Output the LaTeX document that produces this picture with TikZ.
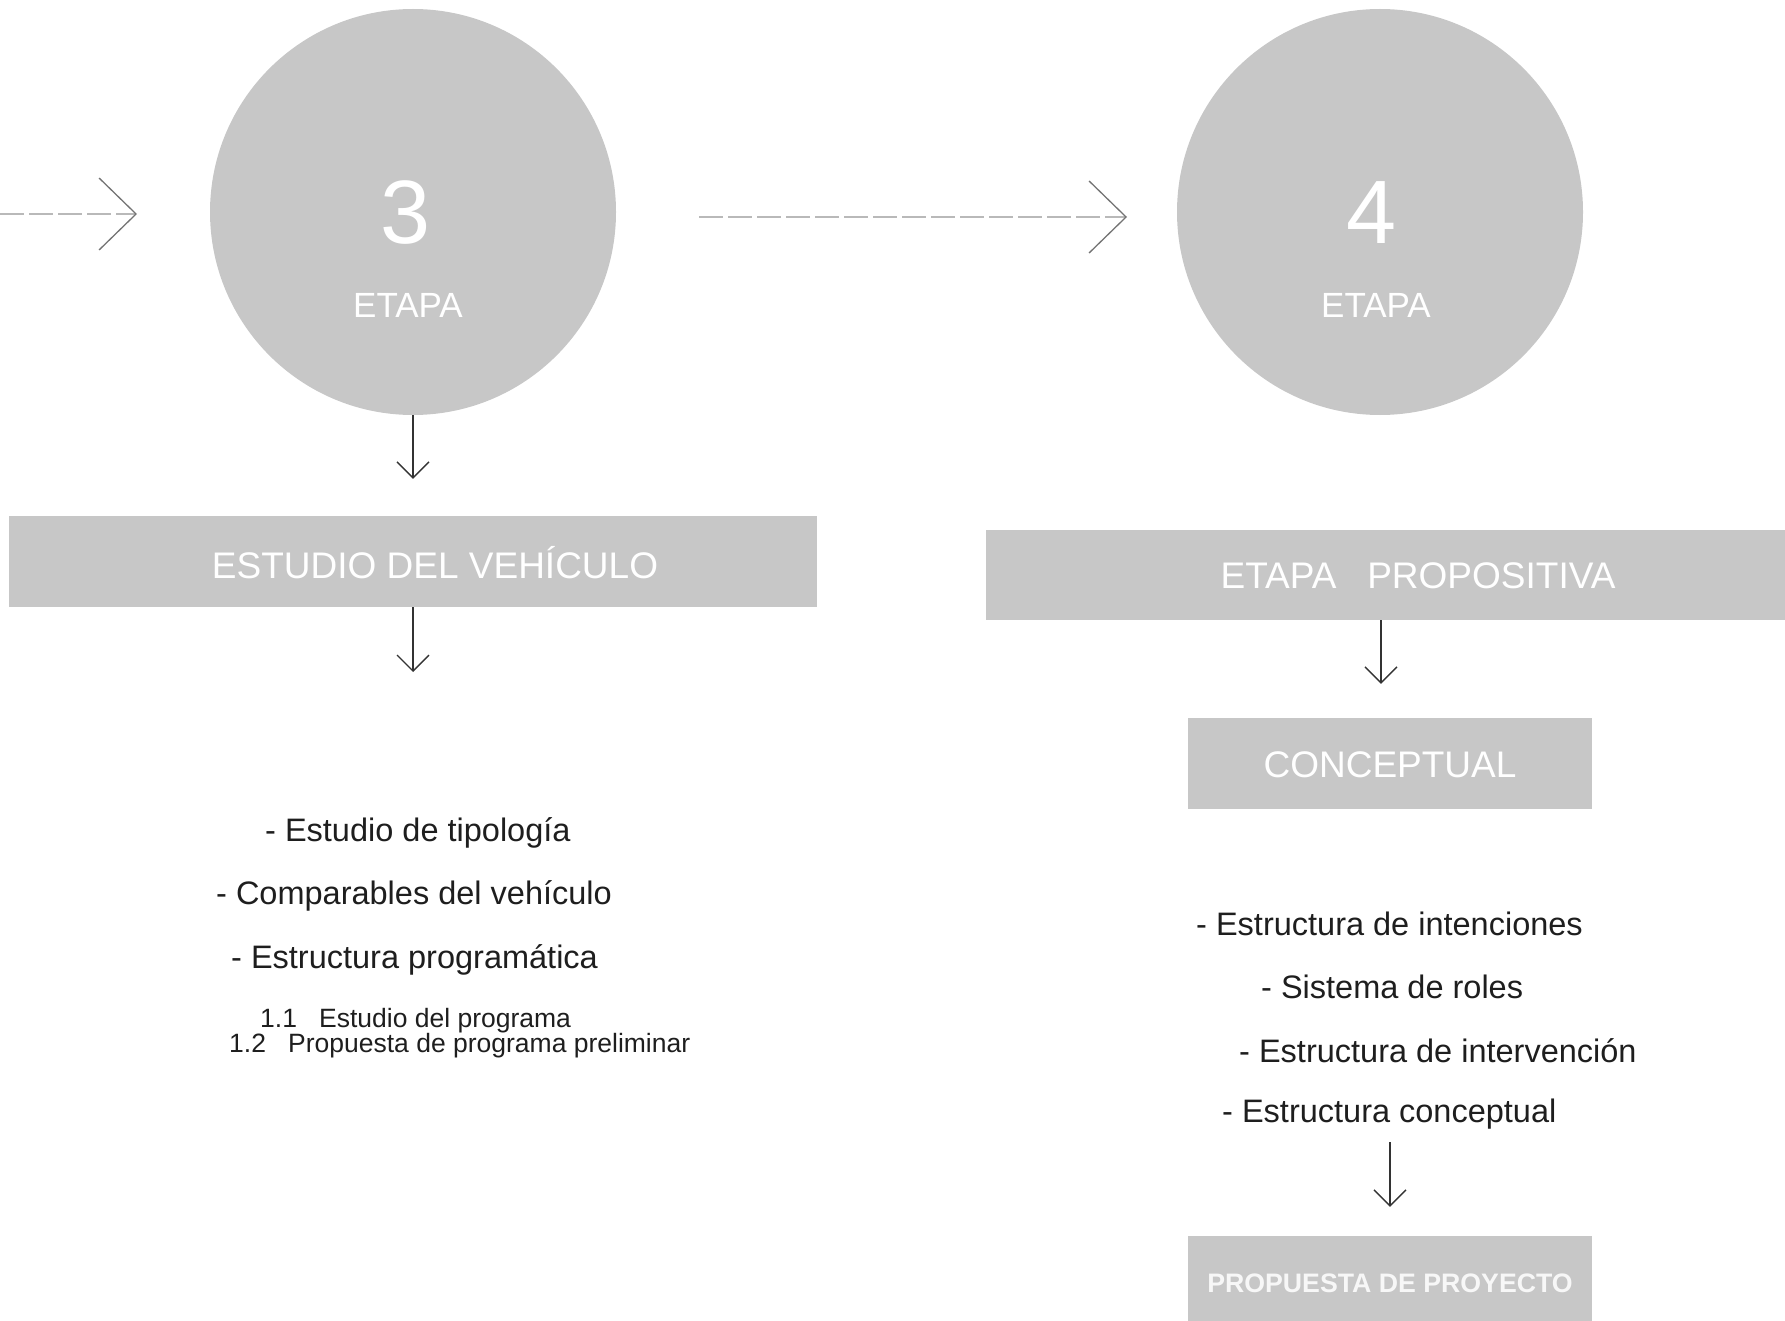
\documentclass[tikz,border=0pt]{standalone}
\usepackage{fontspec}
\setmainfont{Liberation Sans}
\usetikzlibrary{arrows.meta}
\definecolor{shade}{RGB}{199,199,199}
\definecolor{inktext}{RGB}{30,30,30}
\definecolor{dashgray}{RGB}{185,185,185}
\begin{document}
\begin{tikzpicture}[x=1pt,y=-1pt,
  stage/.style={circle, fill=shade, minimum size=406pt, inner sep=0pt},
  bar/.style={fill=shade, inner sep=0pt, text=white, font=\fontsize{37}{40}\selectfont},
  item/.style={text=inktext, inner sep=0pt, font=\fontsize{32.5}{36}\selectfont},
  subitem/.style={text=inktext, inner sep=0pt, font=\fontsize{26.5}{27}\selectfont, align=left},
  flow/.style={draw=black!80, line width=1.3pt, -{Straight Barb[length=16pt,width=32pt,line width=1.3pt]}},
  link/.style={draw=dashgray, line width=1.3pt, dash pattern=on 24pt off 5pt, -{Straight Barb[length=37pt,width=72pt,line width=1.3pt,color=black!55]}}
]
\useasboundingbox (0,0) rectangle (1785,1321);

% stage circles
\node[stage] (c3) at (413,212) {};
\node[text=white, font=\fontsize{90}{92}\selectfont] (n3) at (406,213) {3};
\node[text=white, font=\fontsize{35}{38}\selectfont] (e3) at (408,305) {ETAPA};

\node[stage] (c4) at (1380,212) {};
\node[text=white, font=\fontsize{90}{92}\selectfont] (n4) at (1372,213) {4};
\node[text=white, font=\fontsize{35}{38}\selectfont] (e4) at (1376,305) {ETAPA};

% dashed connectors
\coordinate (lstart) at (0,214);
\coordinate (lend) at (137,214);
\draw[link] (lstart) -- (lend);
\coordinate (mstart) at (699,217);
\coordinate (mend) at (1127,217);
\draw[link] (mstart) -- (mend);

% bars
\node[bar, minimum width=808pt, minimum height=91pt] (b1) at (413,561.5) {};
\node[text=white, font=\fontsize{37}{40}\selectfont] (b1t) at (435,563) {ESTUDIO DEL VEHÍCULO};

\node[bar, minimum width=800pt, minimum height=90pt] (b2) at (1386,575) {};
\node[text=white, font=\fontsize{37}{40}\selectfont] (b2t) at (1418,576) {ETAPA\ \ \ PROPOSITIVA};

\node[bar, minimum width=404pt, minimum height=91pt] (b3) at (1390,763.5) {};
\node[text=white, font=\fontsize{37}{40}\selectfont] (b3t) at (1390,765) {CONCEPTUAL};

\node[bar, minimum width=404pt, minimum height=90pt] (b4) at (1390,1281) {};
\node[text=white!97!black, font=\bfseries\fontsize{26.7}{29}\selectfont] (b4t) at (1390,1283) {PROPUESTA DE PROYECTO};

% left list
\node[item, anchor=west] (l1) at (265,833) {- Estudio de tipología};
\node[item, anchor=west] (l2) at (216,896) {- Comparables del vehículo};
\node[item, anchor=west] (l3) at (231,960) {- Estructura programática};
\node[subitem, anchor=west] (l4) at (260,1021) {1.1\ \ \ Estudio del programa};
\node[subitem, anchor=west] (l5) at (229,1046) {1.2\ \ \ Propuesta de programa preliminar};

% right list
\node[item, anchor=west] (r1) at (1196,924) {- Estructura de intenciones};
\node[item, anchor=west] (r2) at (1261,987) {- Sistema de roles};
\node[item, anchor=west] (r3) at (1239,1051) {- Estructura de intervención};
\node[item, anchor=west] (r4) at (1222,1114) {- Estructura conceptual};

% solid connectors
\draw[flow, shorten >=37pt] (c3.south) -- (b1.north -| c3.south);
\coordinate (a2end) at (413,672);
\draw[flow] (b1.south -| c3.south) -- (a2end);
\coordinate (a3top) at (1381,620);
\draw[flow, shorten >=34pt] (a3top) -- (a3top |- b3.north);
\coordinate (a4top) at (1390,1142);
\draw[flow, shorten >=29pt] (a4top) -- (b4.north);
\end{tikzpicture}
\end{document}
